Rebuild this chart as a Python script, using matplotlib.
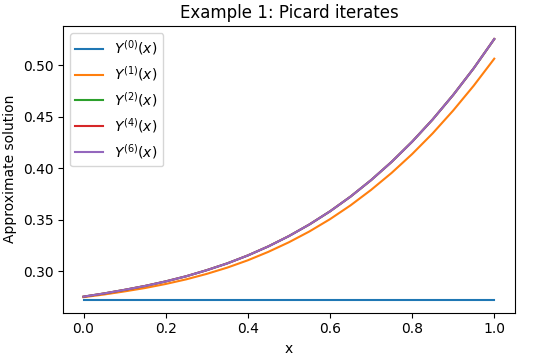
import numpy as np
import matplotlib
matplotlib.use("Agg")
import matplotlib.pyplot as plt

x = [0.00, 0.05, 0.10, 0.15, 0.20, 0.25, 0.30, 0.35, 0.40, 0.45, 0.50,
     0.55, 0.60, 0.65, 0.70, 0.75, 0.80, 0.85, 0.90, 0.95, 1.00]

y0 = [0.2727] * 21
y1 = [0.2750, 0.2776, 0.2806, 0.2839, 0.2878, 0.2923, 0.2976, 0.3037, 0.3108, 0.3190, 0.3283,
      0.3388, 0.3507, 0.3641, 0.3791, 0.3956, 0.4139, 0.4340, 0.4562, 0.4803, 0.5065]
y2 = [0.2755, 0.2786, 0.2821, 0.2859, 0.2903, 0.2953, 0.3012, 0.3078, 0.3155, 0.3243, 0.3343,
      0.3456, 0.3583, 0.3726, 0.3886, 0.4063, 0.4259, 0.4475, 0.4713, 0.4972, 0.5255]
y4 = [0.2755, 0.2786, 0.2821, 0.2859, 0.2903, 0.2953, 0.3012, 0.3078, 0.3155, 0.3243, 0.3343,
      0.3456, 0.3583, 0.3726, 0.3886, 0.4063, 0.4259, 0.4475, 0.4713, 0.4972, 0.5256]
y6 = [0.2755, 0.2786, 0.2821, 0.2859, 0.2903, 0.2953, 0.3012, 0.3078, 0.3155, 0.3243, 0.3343,
      0.3456, 0.3583, 0.3726, 0.3886, 0.4063, 0.4259, 0.4475, 0.4713, 0.4972, 0.5256]

series = [(0, y0), (1, y1), (2, y2), (4, y4), (6, y6)]

fig = plt.figure(figsize=(5.5, 3.56), dpi=100)
ax = fig.add_axes([0.1145, 0.122, 0.8215, 0.805])

for k, ys in series:
    ax.plot(x, ys, label=f"$Y^{{({k})}}(x)$")

ax.set_xlabel("x")
ax.set_ylabel("Approximate solution")
ax.set_title("Example 1: Picard iterates")
ax.legend(loc="upper left")

fig.savefig("out.png", dpi=100)
